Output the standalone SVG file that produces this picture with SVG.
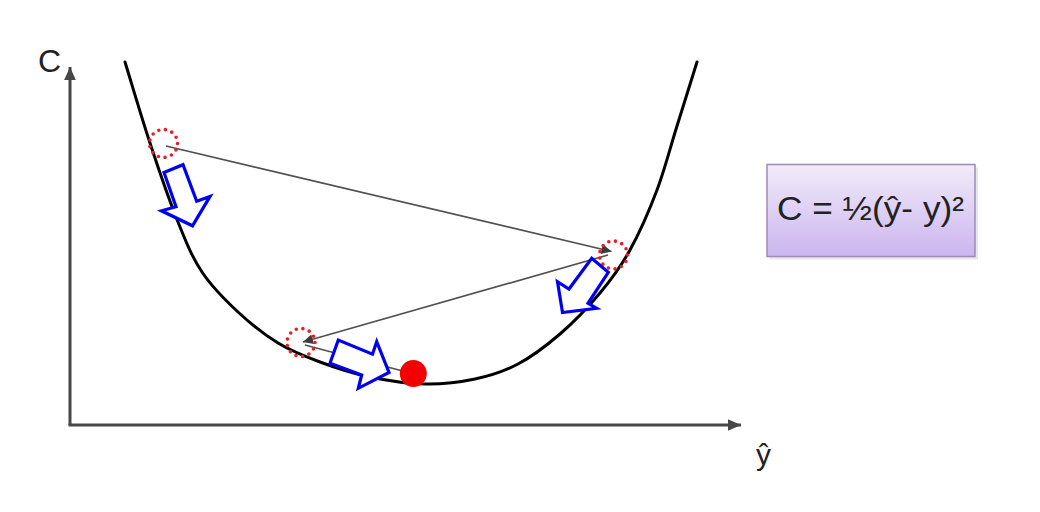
<svg xmlns="http://www.w3.org/2000/svg" width="1040" height="512" viewBox="0 0 1040 512">
<style>
.axis{stroke:#474747;stroke-width:3;fill:none}
.curve{stroke:#000;stroke-width:3;fill:none;stroke-linecap:round}
.conn{stroke:#505050;stroke-width:1.7;fill:none}
.dot{fill:none;stroke:#e81c24;stroke-width:3.6;stroke-dasharray:0 6.75;stroke-linecap:round}
.barrow{fill:#fff;stroke:#0000f0;stroke-width:3.2;stroke-linejoin:miter}
.lbl{font-family:"Liberation Sans",Arial,sans-serif;fill:#222}
</style>
<defs>
<marker id="ah" viewBox="0 0 10 10" refX="10" refY="5" markerWidth="11" markerHeight="10" markerUnits="userSpaceOnUse" orient="auto">
<path d="M0,0 L10,5 L0,10 z" fill="#3c3c3c"/>
</marker>
<marker id="axh" viewBox="0 0 10 10" refX="10" refY="5" markerWidth="13" markerHeight="13" markerUnits="userSpaceOnUse" orient="auto">
<path d="M0,0.5 L10,5 L0,9.5 z" fill="#474747"/>
</marker>
<linearGradient id="boxg" x1="0" y1="0" x2="0" y2="1">
<stop offset="0" stop-color="#f1ebf9"/>
<stop offset="1" stop-color="#cbb5ef"/>
</linearGradient>
</defs>
<rect width="1040" height="512" fill="#fff"/>
<g id="axes">
<path class="axis" d="M70,425 L70,67" marker-end="url(#axh)"/>
<path class="axis" d="M68.5,425 L741,425" marker-end="url(#axh)"/>
<text class="lbl" x="38" y="72" font-size="32">C</text>
<text class="lbl" x="756" y="465" font-size="30">ŷ</text>
</g>
<g id="cost-curve">
<path class="curve" d="M125,62 C133.3,89 141.2,116.3 150,143 C158.8,169.7 169.3,200.5 178,222 C186.7,243.5 192,257 202,272 C212,287 225.3,300.2 238,312 C250.7,323.8 264.3,334.7 278,343 C291.7,351.3 304.7,356.3 320,362 C335.3,367.7 352.5,373.3 370,377 C387.5,380.7 407.5,383.7 425,384 C442.5,384.3 459.5,382.3 475,379 C490.5,375.7 503.8,371.5 518,364 C532.2,356.5 546.3,345.8 560,334 C573.7,322.2 588.3,307 600,293 C611.7,279 620.5,267.2 630,250 C639.5,232.8 649.2,210.7 657,190 C664.8,169.3 670.3,147.3 677,126 C683.7,104.7 690.3,83.3 697,62"/>
</g>
<g id="connectors">
<path class="conn" d="M166,146 L611.5,251.5" marker-end="url(#ah)"/>
<path class="conn" d="M608,255 L303,342" marker-end="url(#ah)"/>
<path class="conn" d="M305,345 L412,373.5" marker-end="url(#ah)"/>
</g>
<g id="point-1">
<circle class="dot" cx="163.5" cy="143.5" r="14"/>
</g>
<g id="point-2">
<circle class="dot" cx="613.5" cy="255" r="14"/>
</g>
<g id="point-3">
<circle class="dot" cx="301" cy="342.5" r="14"/>
</g>
<g id="minimum">
<circle cx="413.3" cy="373.5" r="13.5" fill="#f50000"/>
</g>
<g id="step-arrow-1">
<polygon class="barrow" points="164,172.5 183,164.7 196.7,201.2 210,196.4 192.5,225.8 161.4,210.8 176,206.7"/>
</g>
<g id="step-arrow-2">
<polygon class="barrow" points="591.7,258.3 608.3,272.3 588,303.3 596.7,308.3 562.5,312.5 557.5,281.7 569,289"/>
</g>
<g id="step-arrow-3">
<polygon class="barrow" points="338.3,340 330,363.3 361.7,375 358.3,388.3 389,372.5 376.7,341.7 372.5,354.2"/>
</g>
<g id="formula">
<rect x="770" y="167.5" width="208" height="92" fill="#d8d8d8" opacity="0.6"/>
<rect x="767" y="164.5" width="208" height="92" fill="url(#boxg)" stroke="#9c8cb4" stroke-width="1.5"/>
<text class="lbl" x="777" y="220" font-size="33" textLength="187" lengthAdjust="spacingAndGlyphs">C = ½(ŷ- y)²</text>
</g>
</svg>
